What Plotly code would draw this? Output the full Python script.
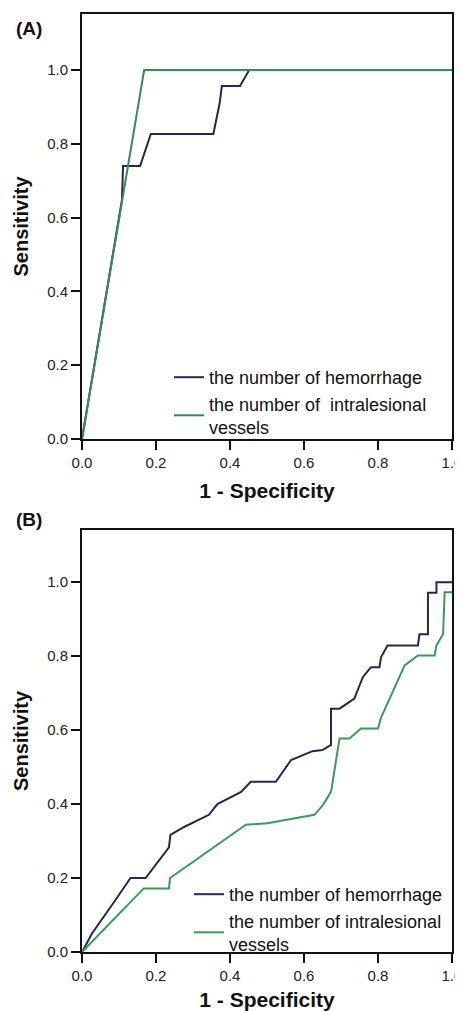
import plotly.graph_objects as go

# ---------------- data ----------------
tick_vals = [0.0, 0.2, 0.4, 0.6, 0.8, 1.0]
tick_text = ["0.0", "0.2", "0.4", "0.6", "0.8", "1.0"]

name_hem = "the number of hemorrhage"
name_ves_a = "the number of \u00a0intralesional<br>vessels"
name_ves_b = "the number of intralesional<br>vessels"

# Panel A
a_hem_x = [0, 0.108, 0.111, 0.157, 0.186, 0.355, 0.372, 0.378, 0.427, 0.452, 1.0]
a_hem_y = [0, 0.648, 0.74, 0.74, 0.827, 0.827, 0.91, 0.957, 0.957, 1.0, 1.0]
a_ves_x = [0, 0.168, 1.0]
a_ves_y = [0, 1.0, 1.0]

# Panel B
b_hem_x = [0, 0.027, 0.09, 0.131, 0.172, 0.235, 0.239, 0.276, 0.343, 0.366, 0.43, 0.456,
           0.524, 0.565, 0.623, 0.65, 0.673, 0.673, 0.696, 0.736, 0.759, 0.781, 0.804,
           0.808, 0.826, 0.908, 0.912, 0.935, 0.935, 0.958, 0.958, 1.0]
b_hem_y = [0, 0.05, 0.14, 0.2, 0.2, 0.283, 0.317, 0.338, 0.371, 0.40, 0.433, 0.46,
           0.46, 0.519, 0.543, 0.546, 0.56, 0.658, 0.658, 0.685, 0.743, 0.770, 0.770,
           0.797, 0.829, 0.829, 0.859, 0.859, 0.971, 0.971, 1.0, 1.0]
b_ves_x = [0, 0.167, 0.235, 0.238, 0.443, 0.501, 0.628, 0.65, 0.673, 0.696, 0.723,
           0.754, 0.80, 0.808, 0.872, 0.908, 0.953, 0.958, 0.976, 0.98, 1.0]
b_ves_y = [0, 0.172, 0.172, 0.2, 0.344, 0.348, 0.371, 0.396, 0.433, 0.577, 0.577,
           0.604, 0.604, 0.633, 0.775, 0.802, 0.802, 0.829, 0.860, 0.973, 0.973]

# ---------------- style ----------------
# the page body has an 8px margin, so the figure is drawn 8px in from the window corner
OFF = 8
W, H = 463 - OFF, 1011 - OFF
FONT = "Liberation Sans, Arial, sans-serif"
HEM_COLOR = "#26264f"
VES_COLOR_A = "#378a5a"
VES_COLOR_B = "#3c9a58"
AX_COLOR = "#111111"


def px_x(sx):
    return (sx - OFF) / W


def px_y(sy):
    return 1 - (sy - OFF) / H


fig = go.Figure()
fig.add_trace(go.Scatter(x=a_hem_x, y=a_hem_y, mode="lines", name=name_hem,
                         line=dict(color=HEM_COLOR, width=2), xaxis="x", yaxis="y", legend="legend"))
fig.add_trace(go.Scatter(x=a_ves_x, y=a_ves_y, mode="lines", name=name_ves_a,
                         line=dict(color=VES_COLOR_A, width=2), xaxis="x", yaxis="y", legend="legend"))
fig.add_trace(go.Scatter(x=b_hem_x, y=b_hem_y, mode="lines", name=name_hem,
                         line=dict(color=HEM_COLOR, width=2), xaxis="x2", yaxis="y2", legend="legend2"))
fig.add_trace(go.Scatter(x=b_ves_x, y=b_ves_y, mode="lines", name=name_ves_b,
                         line=dict(color=VES_COLOR_B, width=2), xaxis="x2", yaxis="y2", legend="legend2"))


def xax(anchor):
    return dict(domain=[px_x(82), px_x(452)], range=[0, 1], anchor=anchor, automargin=False,
                showline=True, linecolor=AX_COLOR, linewidth=2, mirror=True,
                ticks="outside", ticklen=9, tickwidth=2, tickcolor=AX_COLOR,
                tickvals=tick_vals, ticktext=tick_text,
                tickfont=dict(family=FONT, size=15, color="#222"),
                showgrid=False, zeroline=False, layer="above traces",
                title=dict(text="<b>1 - Specificity</b>", font=dict(family=FONT, size=21, color="#111"),
                           standoff=13))


def yax(anchor, top_px, bottom_px, ymax):
    return dict(domain=[px_y(bottom_px), px_y(top_px)], range=[0, ymax], anchor=anchor,
                automargin=False,
                showline=True, linecolor=AX_COLOR, linewidth=2, mirror=True,
                ticks="outside", ticklen=9, tickwidth=2, tickcolor=AX_COLOR,
                tickvals=tick_vals, ticktext=tick_text,
                tickfont=dict(family=FONT, size=15, color="#222"),
                showgrid=False, zeroline=False, layer="above traces",
                title=dict(text="<b>Sensitivity</b>", font=dict(family=FONT, size=20, color="#111"),
                           standoff=13))


fig.update_layout(
    width=W, height=H,
    margin=dict(l=0, r=0, t=0, b=0, autoexpand=False),
    paper_bgcolor="white", plot_bgcolor="white",
    font=dict(family=FONT, color="#111"),
    xaxis=xax("y"), yaxis=yax("x", 14, 439, 1.152),
    xaxis2=xax("y2"), yaxis2=yax("x2", 530, 952, 1.141),
    legend=dict(x=px_x(169), xanchor="left", y=px_y(359), yanchor="top",
                bgcolor="rgba(0,0,0,0)", font=dict(family=FONT, size=18, color="#111"),
                tracegroupgap=0, itemwidth=30),
    legend2=dict(x=px_x(189), xanchor="left", y=px_y(876), yanchor="top",
                 bgcolor="rgba(0,0,0,0)", font=dict(family=FONT, size=18, color="#111"),
                 tracegroupgap=0, itemwidth=30),
    annotations=[
        dict(text="<b>(A)</b>", x=px_x(14), y=px_y(28), xref="paper", yref="paper",
             xanchor="left", yanchor="middle", showarrow=False,
             font=dict(family=FONT, size=19, color="#111")),
        dict(text="<b>(B)</b>", x=px_x(14), y=px_y(520), xref="paper", yref="paper",
             xanchor="left", yanchor="middle", showarrow=False,
             font=dict(family=FONT, size=19, color="#111")),
    ],
)

fig.write_html("out.html")
